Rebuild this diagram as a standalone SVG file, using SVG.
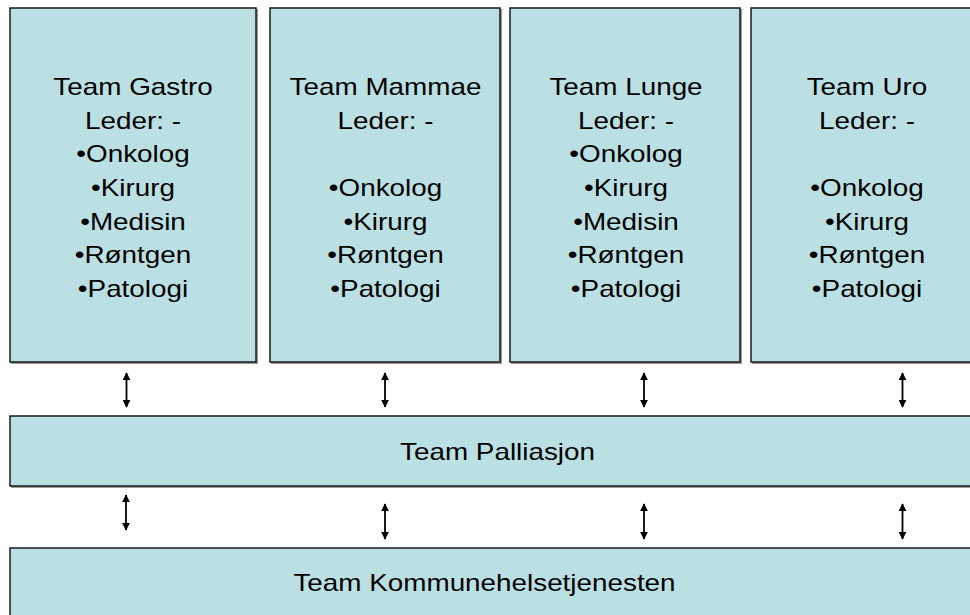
<svg xmlns="http://www.w3.org/2000/svg" width="970" height="615" viewBox="0 0 970 615">
<style>
.box{fill:#bbe0e3;stroke:#1a1a1a;stroke-width:1.5}
.sh{fill:#9a9a9a}
.t{font-family:"Liberation Sans",Arial,sans-serif;font-size:24px;fill:#000;text-anchor:middle}
.c{stroke:#000;stroke-width:1.8;fill:none;marker-start:url(#ah);marker-end:url(#ah)}
</style>
<defs>
<marker id="ah" viewBox="0 0 10 10" refX="9" refY="5" markerWidth="8" markerHeight="8" markerUnits="userSpaceOnUse" orient="auto-start-reverse">
<path d="M0,0 L10,5 L0,10 z" fill="#000"/>
</marker>
</defs>
<rect width="970" height="615" fill="#fff"/>
<g id="gastro">
<rect class="sh" x="11" y="9" width="247" height="355"/>
<rect class="box" x="10" y="8" width="246" height="354"/>
<g transform="translate(133 0) scale(1.16 1)">
<text class="t" x="0" y="95">Team Gastro</text>
<text class="t" x="0" y="128.7">Leder: -</text>
<text class="t" x="0" y="162.4">•Onkolog</text>
<text class="t" x="0" y="196.1">•Kirurg</text>
<text class="t" x="0" y="229.8">•Medisin</text>
<text class="t" x="0" y="263.5">•Røntgen</text>
<text class="t" x="0" y="297.2">•Patologi</text>
</g>
</g>
<g id="mammae">
<rect class="sh" x="271" y="9" width="231" height="355"/>
<rect class="box" x="270" y="8" width="230" height="354"/>
<g transform="translate(385.5 0) scale(1.16 1)">
<text class="t" x="0" y="95">Team Mammae</text>
<text class="t" x="0" y="128.7">Leder: -</text>
<text class="t" x="0" y="196.1">•Onkolog</text>
<text class="t" x="0" y="229.8">•Kirurg</text>
<text class="t" x="0" y="263.5">•Røntgen</text>
<text class="t" x="0" y="297.2">•Patologi</text>
</g>
</g>
<g id="lunge">
<rect class="sh" x="511" y="9" width="231" height="355"/>
<rect class="box" x="510" y="8" width="230" height="354"/>
<g transform="translate(626 0) scale(1.16 1)">
<text class="t" x="0" y="95">Team Lunge</text>
<text class="t" x="0" y="128.7">Leder: -</text>
<text class="t" x="0" y="162.4">•Onkolog</text>
<text class="t" x="0" y="196.1">•Kirurg</text>
<text class="t" x="0" y="229.8">•Medisin</text>
<text class="t" x="0" y="263.5">•Røntgen</text>
<text class="t" x="0" y="297.2">•Patologi</text>
</g>
</g>
<g id="uro">
<rect class="sh" x="752" y="9" width="232" height="355"/>
<rect class="box" x="751" y="8" width="232" height="354"/>
<g transform="translate(867 0) scale(1.16 1)">
<text class="t" x="0" y="95">Team Uro</text>
<text class="t" x="0" y="128.7">Leder: -</text>
<text class="t" x="0" y="196.1">•Onkolog</text>
<text class="t" x="0" y="229.8">•Kirurg</text>
<text class="t" x="0" y="263.5">•Røntgen</text>
<text class="t" x="0" y="297.2">•Patologi</text>
</g>
</g>
<g id="palliasjon">
<rect class="sh" x="11" y="417" width="975" height="71"/>
<rect class="box" x="10" y="416" width="975" height="70"/>
<text class="t" transform="translate(497.5 0) scale(1.16 1)" x="0" y="460">Team Palliasjon</text>
</g>
<g id="kommune">
<rect class="sh" x="11" y="549" width="975" height="80"/>
<rect class="box" x="10" y="548" width="975" height="80"/>
<text class="t" transform="translate(484.5 0) scale(1.16 1)" x="0" y="591">Team Kommunehelsetjenesten</text>
</g>
<g id="connectors">
<line class="c" x1="126.5" y1="373" x2="126.5" y2="407"/>
<line class="c" x1="385" y1="373" x2="385" y2="407"/>
<line class="c" x1="644" y1="373" x2="644" y2="407"/>
<line class="c" x1="902.5" y1="373" x2="902.5" y2="407"/>
<line class="c" x1="126" y1="495" x2="126" y2="530"/>
<line class="c" x1="385" y1="504" x2="385" y2="539"/>
<line class="c" x1="644" y1="504" x2="644" y2="539"/>
<line class="c" x1="902.5" y1="504" x2="902.5" y2="539"/>
</g>
</svg>
